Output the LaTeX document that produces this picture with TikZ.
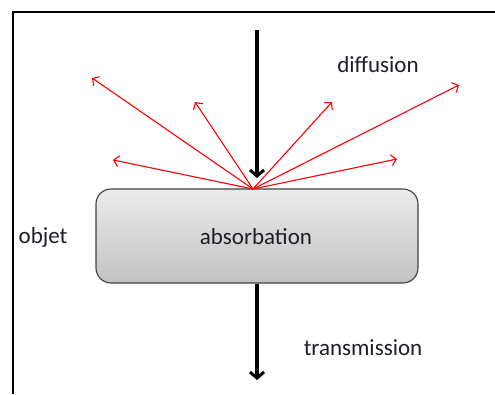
\documentclass[tikz,border=0pt]{standalone}
\usepackage{fontspec}
\setmainfont{Carlito}
\usetikzlibrary{arrows.meta}
\definecolor{boxtop}{HTML}{EBEBEB}
\definecolor{boxbot}{HTML}{C2C2C2}
\definecolor{boxline}{HTML}{404040}
\definecolor{txt}{HTML}{1E1E28}
\begin{document}
\begin{tikzpicture}[x=1pt,y=-1pt,
  lbl/.style={inner sep=0pt, text=txt, font=\fontsize{23}{27}\selectfont},
  objbox/.style={draw=boxline, line width=1.1pt, rounded corners=15pt, top color=boxtop, bottom color=boxbot, minimum width=322pt, minimum height=94pt, inner sep=0pt},
  ray/.style={red, line width=1.1pt, -{Straight Barb[length=5pt,width=11pt]}},
  beam/.style={black, line width=3.2pt, -{Straight Barb[length=6pt,width=14pt,line width=3pt]}},
  frame/.style={black, line width=2pt}
]
\useasboundingbox (0,0) rectangle (495,394);
\draw[frame] (13,394) -- (13,12) -- (495,12);
\node[objbox] (box) at (257,236) {};
\node[lbl] (abs) at (256,237) {absorbation};
\node[lbl] (obj) at (43,237) {objet};
\node[lbl] (dif) at (378,65) {diffusion};
\node[lbl] (tra) at (363,348) {transmission};
\coordinate (src) at (257,30);
\coordinate (hit) at (253,189);
\coordinate (hitb) at (257,178);
\coordinate (out) at (257,380);
\coordinate (r1) at (92,78);
\coordinate (r2) at (195,102);
\coordinate (r3) at (113,160);
\coordinate (r4) at (332,102);
\coordinate (r5) at (397,159);
\coordinate (r6) at (459,85);
\foreach \r in {r1,r2,r3,r4,r5,r6} \draw[ray] (hit) -- (\r);
\draw[beam] (src) -- (hitb);
\draw[beam] (box.south -| out) -- (out);
\end{tikzpicture}
\end{document}
